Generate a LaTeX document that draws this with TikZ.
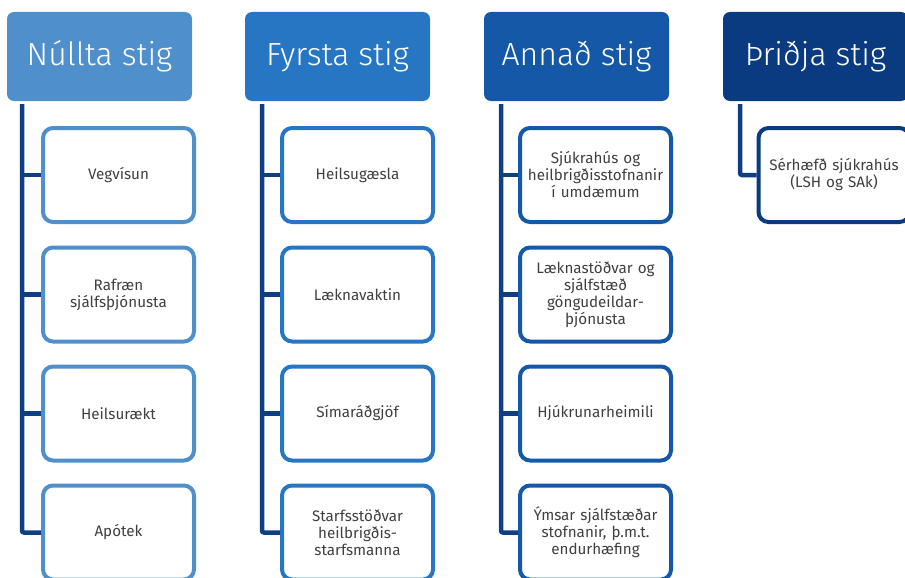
\documentclass[tikz,border=0pt]{standalone}
\usepackage{fontspec}
\setmainfont{Fira Sans}
\newfontfamily\hdrfont{Fira Sans Light}
\usetikzlibrary{calc}
\definecolor{cA}{RGB}{79,143,204}
\definecolor{cB}{RGB}{38,118,196}
\definecolor{cC}{RGB}{22,88,168}
\definecolor{cD}{RGB}{10,58,128}
\definecolor{conn}{RGB}{14,62,132}
\definecolor{txt}{RGB}{64,64,64}
\tikzset{
  hdr/.style={rectangle, rounded corners=7pt, fill=#1, minimum width=185pt, minimum height=89pt, inner sep=0pt, text=white, font=\hdrfont\fontsize{32}{36}\selectfont},
  child/.style={rectangle, rounded corners=10pt, draw=#1, line width=4pt, fill=white, minimum width=151pt, minimum height=94pt, inner sep=1pt, text width=147pt, align=center, text=txt, font=\fontsize{15.2}{17}\selectfont},
  trunk/.style={draw=conn, line width=4.5pt, rounded corners=2pt},
  branch/.style={draw=conn, line width=4.5pt}
}
\begin{document}
\begin{tikzpicture}[x=1pt,y=-1pt]
\useasboundingbox (0,0) rectangle (905,578);
% headers
\node[hdr=cA] (h1) at (99.5,56.5) {Núllta stig};
\node[hdr=cB] (h2) at (337.5,56.5) {Fyrsta stig};
\node[hdr=cC] (h3) at (576.5,56.5) {Annað stig};
\node[hdr=cD] (h4) at (815.5,56.5) {Þriðja stig};
% children column 1
\node[child=cA] (a1) at (118.5,175) {Vegvísun};
\node[child=cA] (a2) at (118.5,294.5) {Rafræn\\sjálfsþjónusta};
\node[child=cA] (a3) at (118.5,413.5) {Heilsurækt};
\node[child=cA] (a4) at (118.5,532.5) {Apótek};
% column 2
\node[child=cB] (b1) at (357.5,175) {Heilsugæsla};
\node[child=cB] (b2) at (357.5,294.5) {Læknavaktin};
\node[child=cB] (b3) at (357.5,413.5) {Símaráðgjöf};
\node[child=cB] (b4) at (357.5,532.5) {Starfsstöðvar\\heilbrigðis-\\starfsmanna};
% column 3
\node[child=cC] (c1) at (595.5,175) {Sjúkrahús og\\heilbrigðisstofnanir\\í umdæmum};
\node[child=cC] (c2) at (595.5,294.5) {Læknastöðvar og\\sjálfstæð\\göngudeildar-\\þjónusta};
\node[child=cC] (c3) at (595.5,413.5) {Hjúkrunarheimili};
\node[child=cC] (c4) at (595.5,532.5) {Ýmsar sjálfstæðar\\stofnanir, þ.m.t.\\endurhæfing};
% column 4
\node[child=cD] (d1) at (834,175) {Sérhæfð sjúkrahús\\(LSH og SAk)};
% connectors
\foreach \k/\x in {a/22, b/262, c/501}{
  \draw[trunk] (\x,104) coordinate (t\k) |- (\k4.west);
  \foreach \i in {1,2,3}{ \draw[branch] (\k\i.west) -- (\k\i.west -| t\k); }
}
\draw[trunk] (740,104) coordinate (td) |- (d1.west);
\end{tikzpicture}
\end{document}
